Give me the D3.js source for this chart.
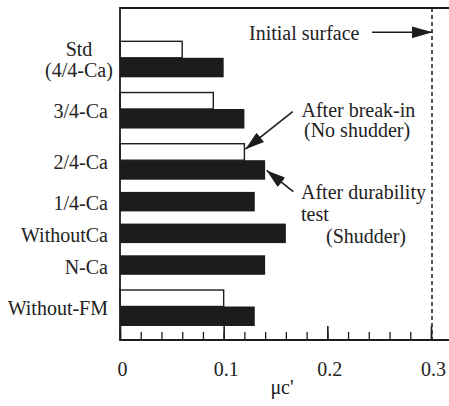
<!DOCTYPE html>
<html>
<head>
<meta charset="utf-8">
<script src="https://cdn.jsdelivr.net/npm/d3@7"></script>
<style>
  html, body { margin: 0; padding: 0; background: #fff; }
  svg { display: block; }
</style>
</head>
<body>
<svg id="chart" width="449" height="406"></svg>
<script>
// ---- data ----
const categories = ["Std\n(4/4-Ca)", "3/4-Ca", "2/4-Ca", "1/4-Ca", "WithoutCa", "N-Ca", "Without-FM"];
const afterBreakIn = [0.06, 0.09, 0.12, null, null, null, 0.10];     // open bars (no shudder)
const afterDurability = [0.10, 0.12, 0.14, 0.13, 0.16, 0.14, 0.13]; // filled bars (shudder)
const xTickValues = [0, 0.1, 0.2, 0.3];
const xTickLabels = ["0", "0.1", "0.2", "0.3"];
const xMinorTicks = d3.range(0, 0.3001, 0.02);
const initialSurface = 0.3;
const xTitle = "\u03BCc'";

// ---- layout ----
const FONT = "'Liberation Serif', 'Times New Roman', Times, serif";
const svg = d3.select("#chart");
const plotLeft = 120, plotRight = 449, plotTop = 8, plotBottom = 340;
const ink = "#1c1c1c";
const textInk = "#222";

const x = d3.scaleLinear().domain([0, 0.3]).range([120, 431]);

// vertical layout in "slot" units: each bar takes one slot, gap between groups
const gapU = 0.625, whiteInset = 0.155;
let cursor = 0;
const groups = categories.map((c, i) => {
  const g = { cat: c, i, start: cursor };
  if (afterBreakIn[i] != null) { g.white = cursor; cursor += 1; }
  g.black = cursor; cursor += 1;
  g.end = cursor;
  cursor += gapU;
  return g;
});
const totalU = cursor - gapU;
const y = d3.scaleLinear().domain([0, totalU]).range([38.3, 326]);

// ---- bars ----
svg.append("g").selectAll("rect.black")
  .data(groups).join("rect")
  .attr("x", x(0))
  .attr("y", d => y(d.black))
  .attr("width", d => x(afterDurability[d.i]) - x(0))
  .attr("height", d => y(d.black + 1) - y(d.black))
  .attr("fill", ink);

svg.append("g").selectAll("rect.white")
  .data(groups.filter(d => d.white != null)).join("rect")
  .attr("x", x(0))
  .attr("y", d => y(d.white + whiteInset))
  .attr("width", d => x(afterBreakIn[d.i]) - x(0))
  .attr("height", d => y(d.white + 1) - y(d.white + whiteInset))
  .attr("fill", "#fff")
  .attr("stroke", ink)
  .attr("stroke-width", 1.4);

// ---- category labels ----
const labG = svg.append("g");
groups.forEach(g => {
  const lines = g.cat.split("\n");
  const cy = (y(g.start) + y(g.end)) / 2;
  const multi = lines.length > 1;
  const t = labG.append("text")
    .attr("font-family", FONT).attr("font-size", 20).attr("fill", textInk)
    .attr("text-anchor", multi ? "middle" : "end")
    .attr("x", multi ? 79 : 108);
  const lh = 20.5;
  lines.forEach((ln, k) => {
    t.append("tspan")
      .attr("x", multi ? 79 : 108)
      .attr("y", cy + 8.5 - (lines.length - 1) * lh / 2 + k * lh)
      .text(ln);
  });
});

// ---- axes / frame ----
const frame = svg.append("g").attr("stroke", ink).attr("stroke-width", 1.8).attr("fill", "none");
frame.append("line").attr("x1", plotLeft).attr("x2", plotLeft).attr("y1", plotTop - 0.9).attr("y2", plotBottom + 0.9);
frame.append("line").attr("x1", plotLeft).attr("x2", plotRight).attr("y1", plotTop).attr("y2", plotTop);
frame.append("line").attr("x1", plotLeft).attr("x2", plotRight).attr("y1", plotBottom).attr("y2", plotBottom);

const minorAxis = svg.append("g")
  .attr("transform", `translate(0,${plotBottom})`)
  .call(d3.axisBottom(x).tickValues(xMinorTicks).tickSize(-8).tickFormat(""));
minorAxis.select(".domain").remove();
minorAxis.selectAll("line").attr("stroke", ink).attr("stroke-width", 1.3);

const majorAxis = svg.append("g")
  .attr("transform", `translate(0,${plotBottom})`)
  .call(d3.axisBottom(x).tickValues(xTickValues).tickSize(-14)
        .tickFormat((d, i) => xTickLabels[i]));
majorAxis.attr("font-family", FONT).attr("font-size", 20);
majorAxis.select(".domain").remove();
majorAxis.selectAll("line").attr("stroke", ink).attr("stroke-width", 1.6);
majorAxis.selectAll("text")
  .attr("y", 36).attr("dy", null).attr("dx", 2)
  .attr("font-size", 20)
  .attr("font-family", FONT)
  .attr("fill", textInk);

svg.append("text")
  .attr("font-family", FONT).attr("font-size", 20).attr("fill", textInk)
  .attr("x", 282).attr("y", 394)
  .attr("text-anchor", "middle")
  .text(xTitle);

// ---- initial surface dashed line ----
svg.append("line")
  .attr("x1", x(initialSurface) + 1).attr("x2", x(initialSurface) + 1)
  .attr("y1", plotTop).attr("y2", plotBottom)
  .attr("stroke", ink).attr("stroke-width", 1.5)
  .attr("stroke-dasharray", "4,3");

// ---- annotations ----
const defs = svg.append("defs");
function marker(id, len, wid) {
  defs.append("marker")
    .attr("id", id).attr("markerUnits", "userSpaceOnUse")
    .attr("markerWidth", len).attr("markerHeight", wid)
    .attr("refX", len).attr("refY", wid / 2)
    .attr("orient", "auto")
    .append("path")
    .attr("d", `M0,0L${len},${wid / 2}L0,${wid}Z`)
    .attr("fill", ink);
}
marker("headA", 21, 12);
marker("headB", 19, 12);

const ann = svg.append("g");
function label(xx, yy, s) {
  ann.append("text").attr("font-family", FONT).attr("font-size", 20).attr("fill", textInk)
    .attr("x", xx).attr("y", yy).text(s);
}
label(249, 39.5, "Initial surface");
ann.append("line")
  .attr("x1", 372).attr("y1", 32.3).attr("x2", x(initialSurface) + 1.5).attr("y2", 32.3)
  .attr("stroke", ink).attr("stroke-width", 1.6)
  .attr("marker-end", "url(#headA)");

label(301.5, 116.5, "After break-in");
label(304, 137, "(No shudder)");
const g24 = groups[2];
ann.append("line")
  .attr("x1", 292.7).attr("y1", 111.7)
  .attr("x2", x(afterBreakIn[2]) + 1).attr("y2", y(g24.white + whiteInset) + 5.5)
  .attr("stroke", ink).attr("stroke-width", 1.6)
  .attr("marker-end", "url(#headB)");

label(301, 198.5, "After durability");
label(301, 220.5, "test");
label(326, 243, "(Shudder)");
ann.append("line")
  .attr("x1", 293.3).attr("y1", 191.7)
  .attr("x2", x(afterDurability[2]) + 1.5).attr("y2", (y(g24.black) + y(g24.black + 1)) / 2 + 0.5)
  .attr("stroke", ink).attr("stroke-width", 1.6)
  .attr("marker-end", "url(#headB)");
</script>
</body>
</html>
